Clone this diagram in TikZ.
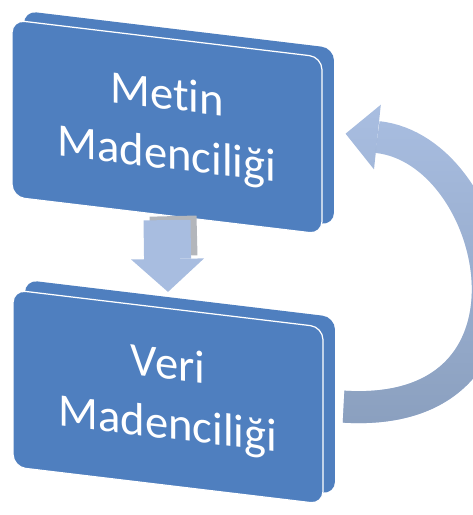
\documentclass[tikz,border=0pt]{standalone}
\usepackage{fontspec}
\setmainfont[Ligatures=NoCommon]{Carlito}
\usetikzlibrary{arrows.meta,fadings}
\definecolor{kutuMavi}{HTML}{4F7FBF}
\definecolor{okAcik}{HTML}{A8BDE0}
\definecolor{okKoyu}{HTML}{8A9FBE}
\definecolor{okGri}{HTML}{B3B6BB}
\begin{document}
\begin{tikzpicture}[x=0.02cm, y=-0.02cm,
    kutu/.style={rounded corners=0.25cm, minimum width=6.2cm, minimum height=3.54cm, yslant=-0.12, inner sep=0pt, fill=kutuMavi},
    yazi/.style={kutu, draw=white, line width=0.7pt, text=white, align=center, font=\fontsize{26.5}{34}\selectfont},
    asagiOk/.style={draw=okAcik, line width=0.94cm, -{Triangle[width=1.46cm, length=0.66cm, line width=0pt]}},
    donusOk/.style={draw=okAcik, line width=0.64cm, -{Triangle[width=1.3cm, length=0.64cm, line width=0pt]}}]
    \useasboundingbox (0,0) rectangle (473,515);
    \clip (0,0) rectangle (473,515);

    % Kutular
    \node[kutu] (metinArka) at (179,118) {};
    \node[yazi] (metin) at (167,127) {Metin\\Madenciliği};
    \node[kutu] (veriArka) at (180,387) {};
    \node[yazi] (veri) at (168,397) {Veri\\Madenciliği};

    % Oklar
    \draw[draw=okGri, line width=0.94cm] ([shift={(6,0)}]metin.south) -- ([shift={(6,-52)}]veri.north);
    \draw[asagiOk] ([shift={(0,4)}]metin.south) -- ([shift={(0,-16)}]veri.north);
    \draw[donusOk] ([shift={(20,-9)}]veri.east) .. controls (560,420) and (500,150) .. ([shift={(23,-12)}]metin.east);
    \draw[donusOk, draw=okKoyu, path fading=north] ([shift={(20,-9)}]veri.east) .. controls (560,420) and (500,150) .. ([shift={(23,-12)}]metin.east);
\end{tikzpicture}
\end{document}
